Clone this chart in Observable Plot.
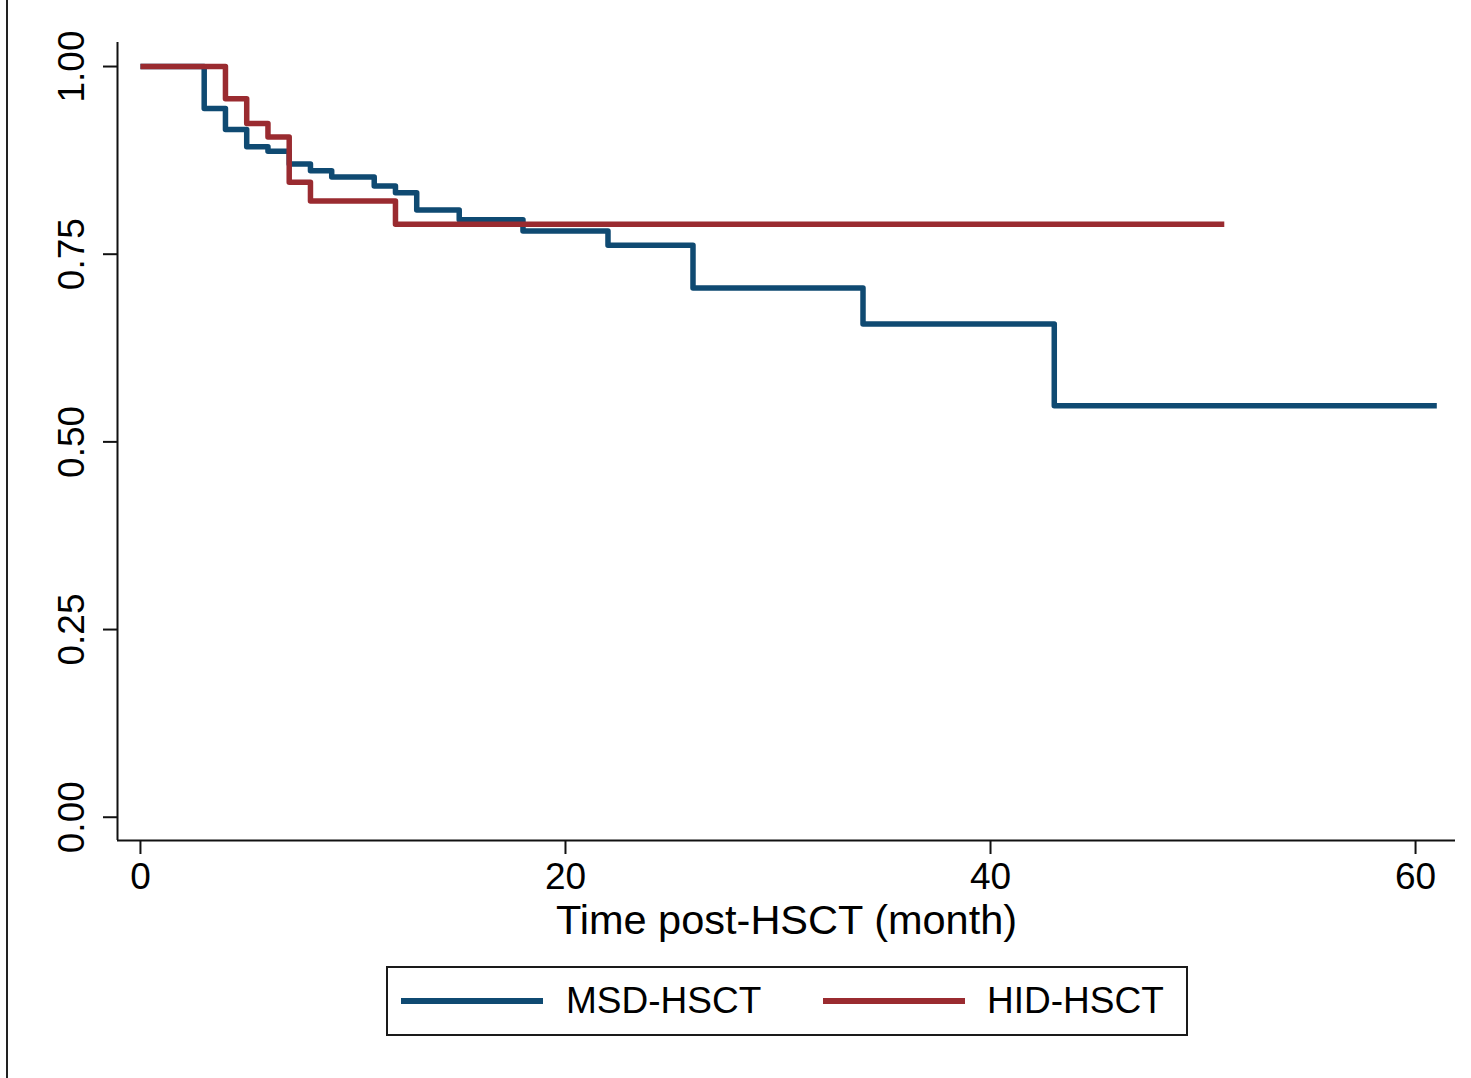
<!DOCTYPE html>
<html>
<head>
<meta charset="utf-8">
<script src="https://cdn.jsdelivr.net/npm/d3@7"></script>
<script src="https://cdn.jsdelivr.net/npm/@observablehq/plot@0.6"></script>
<style>
  html, body { margin: 0; padding: 0; background: #fff; }
  #wrap { position: relative; width: 1471px; height: 1078px; overflow: hidden; font-family: "Liberation Sans", Arial, sans-serif; }
  #edge { position: absolute; left: 6px; top: 0; width: 2px; height: 1078px; background: #222; }
  #chart { position: absolute; left: 0; top: 0; }
  #legend { position: absolute; left: 386px; top: 966px; width: 798px; height: 66px; border: 2px solid #1a1a1a; }
  .sw { position: absolute; top: 30px; height: 6px; }
  .lab { position: absolute; top: 13px; font-size: 37px; line-height: 40px; color: #000; }
</style>
</head>
<body>
<div id="wrap">
  <div id="edge"></div>
  <div id="chart"></div>
  <div id="legend">
    <div class="sw" style="left:13px;width:142px;background:#0f4a72"></div>
    <div class="lab" style="left:178px">MSD-HSCT</div>
    <div class="sw" style="left:435px;width:142px;background:#9a2b30"></div>
    <div class="lab" style="left:599px">HID-HSCT</div>
  </div>
</div>
<script>
// Kaplan–Meier step data (time in months, survival probability)
const groups = ["MSD-HSCT", "HID-HSCT"];
const colors = ["#0f4a72", "#9a2b30"];

const msdTime = [0, 3, 4, 5, 6, 7, 8, 9, 11, 12, 13, 15, 18, 22, 26, 34, 43, 61];
const msdSurv = [1.000, 0.944, 0.916, 0.893, 0.887, 0.870, 0.861, 0.853, 0.841, 0.832, 0.809, 0.796, 0.781, 0.762, 0.705, 0.657, 0.548, 0.548];

const hidTime = [0, 4, 5, 6, 7, 8, 12, 51];
const hidSurv = [1.000, 0.957, 0.924, 0.906, 0.846, 0.821, 0.790, 0.790];

const xTicks = [0, 20, 40, 60];
const yTicks = [0, 0.25, 0.5, 0.75, 1];
const xTitle = "Time post-HSCT (month)";

const rows = [
  ...msdTime.map((t, i) => ({group: groups[0], t, s: msdSurv[i]})),
  ...hidTime.map((t, i) => ({group: groups[1], t, s: hidSurv[i]}))
];

const xDomain = [-1.08, 61.88];
const yDomain = [-0.031, 1.032];
const font = "'Liberation Sans', Arial, sans-serif";

const chart = Plot.plot({
  width: 1471,
  height: 960,
  marginLeft: 117,
  marginRight: 16,
  marginTop: 42,
  marginBottom: 120,
  style: {fontFamily: font, background: "transparent", color: "#000"},
  x: {domain: xDomain},
  y: {domain: yDomain},
  color: {domain: groups, range: colors},
  marks: [
    Plot.ruleX([xDomain[0]], {stroke: "#111", strokeWidth: 2}),
    Plot.ruleY([yDomain[0]], {stroke: "#111", strokeWidth: 2}),
    Plot.axisX({ticks: xTicks, tickSize: 14, tickPadding: 8, fontSize: 37, label: null, stroke: "#111", strokeWidth: 2}),
    Plot.axisY({ticks: yTicks, tickSize: 14, tickFormat: () => "", label: null, stroke: "#111", strokeWidth: 2}),
    Plot.text(yTicks, {y: d => d, text: d => d.toFixed(2), frameAnchor: "left", dx: -45, rotate: -90, textAnchor: "middle", fontSize: 37, fill: "#000"}),
    Plot.text([xTitle], {text: d => d, frameAnchor: "bottom", dy: 93, fontSize: 41.5, fill: "#000", textAnchor: "middle"}),
    Plot.line(rows, {x: "t", y: "s", z: "group", stroke: "group", curve: "step-after", strokeWidth: 5.5, strokeLinejoin: "round", strokeLinecap: "butt"})
  ]
});
document.getElementById("chart").appendChild(chart);
</script>
</body>
</html>
